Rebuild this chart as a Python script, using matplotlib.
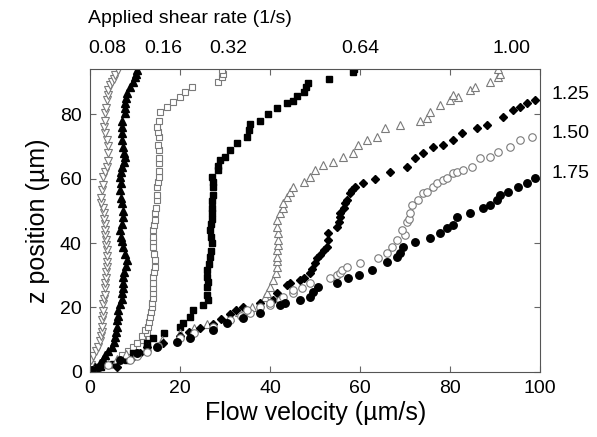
import matplotlib
matplotlib.use("Agg")
import matplotlib.pyplot as plt
from matplotlib.transforms import blended_transform_factory

plt.rcParams['font.family'] = ['Liberation Sans', 'DejaVu Sans']

# velocity (um/s) and z position (um) for each applied shear rate
v_008 = [0.2, 0.1, 0.3, 0.7, 1.3, 1.8, 2.2, 2.5, 2.7, 2.6, 2.7, 2.8, 2.9, 2.9, 3.1, 3.2, 3.3, 3.3, 3.5, 3.6,
         3.8, 3.7, 3.8, 3.8, 3.6, 3.5, 3.4, 3.3, 3.2, 3.0, 3.1, 2.8, 2.5, 2.5, 2.7, 2.8, 2.9, 3.3, 3.8, 3.9,
         4.0, 3.9, 3.8, 3.4, 3.1, 3.2, 3.3, 3.6, 3.8, 4.0, 4.0, 4.4, 4.9, 5.2, 5.6, 6.2]
z_008 = [0.5, 2.0, 3.7, 5.0, 6.5, 7.8, 9.5, 11.0, 12.5, 14.0, 16.0, 17.5, 19.0, 21.0, 22.5, 24.0, 26.0, 27.6, 29.0, 31.0,
         32.6, 34.0, 36.0, 37.8, 39.5, 41.0, 42.5, 44.0, 46.0, 47.5, 49.3, 51.0, 52.4, 54.0, 56.4, 58.0, 60.5, 62.0, 63.6, 65.5,
         67.9, 70.0, 72.0, 74.0, 76.0, 78.0, 80.3, 82.0, 84.3, 86.0, 87.4, 89.0, 90.0, 91.0, 92.0, 93.6]

v_016 = [0.4, 1.0, 2.2, 2.8, 3.3, 4.0, 4.9, 5.2, 5.6, 5.8, 6.0, 6.0, 6.1, 6.2, 6.6, 7.0, 7.1, 7.2, 7.3, 7.3,
         7.6, 8.0, 8.2, 7.8, 7.3, 7.0, 6.8, 6.7, 7.0, 7.3, 7.3, 7.1, 6.9, 6.7, 6.8, 6.7, 6.9, 7.1, 7.5, 7.8,
         7.6, 7.3, 7.0, 7.1, 7.1, 7.1, 7.8, 7.8, 7.8, 8.0, 8.2, 8.9, 9.6, 10.0, 10.2, 10.4]
z_016 = [0.6, 1.5, 2.8, 4.0, 5.3, 6.5, 7.8, 9.3, 10.9, 12.5, 14.0, 16.0, 17.5, 19.2, 21.0, 22.5, 24.5, 26.0, 27.5, 29.5,
         31.0, 33.0, 34.7, 36.5, 38.8, 40.5, 42.0, 44.0, 46.0, 48.0, 50.0, 52.4, 54.0, 56.4, 58.5, 60.5, 62.0, 63.6, 65.0, 66.7,
         68.0, 69.8, 72.0, 74.0, 76.0, 78.0, 80.3, 82.0, 83.4, 85.0, 86.5, 88.4, 90.0, 91.5, 92.5, 93.6]

v_032 = [7.0, 8.5, 9.6, 10.5, 11.8, 11.5, 12.6, 12.2, 12.9, 13.0, 13.3, 13.5, 13.7, 13.8, 14.0, 14.0, 13.9, 14.0, 14.0, 14.2,
         14.4, 14.4, 14.2, 14.0, 14.0, 14.0, 14.0, 14.2, 14.4, 14.4, 14.6, 14.9, 14.9, 14.9, 15.0, 15.2, 15.2, 15.2, 15.3, 15.2,
         15.0, 15.2, 15.0, 14.9, 15.2, 15.6, 17.0, 18.4, 20.0, 21.1, 22.6, 28.4, 29.3, 29.5, 29.3]
z_032 = [5.3, 6.5, 7.8, 9.0, 10.0, 11.0, 12.0, 13.0, 14.0, 15.5, 17.0, 18.5, 20.0, 21.5, 23.0, 24.5, 26.0, 27.5, 29.5, 31.0,
         32.5, 34.7, 36.5, 38.8, 40.5, 42.0, 44.0, 45.5, 47.0, 49.3, 51.0, 53.3, 55.0, 57.4, 59.0, 60.5, 62.5, 64.8, 66.5, 68.8,
         70.5, 72.9, 74.5, 76.0, 78.0, 80.6, 82.2, 83.7, 85.3, 86.8, 88.4, 90.0, 91.5, 92.5, 93.6]

v_064 = [0.5, 2.5, 5.0, 8.1, 9.6, 12.6, 12.6, 14.0, 16.3, 20.0, 20.7, 22.2, 22.9, 25.1, 26.2, 26.0, 26.0, 26.2, 26.0, 26.0,
         26.4, 26.7, 26.9, 27.1, 26.9, 26.7, 26.9, 27.0, 27.1, 27.1, 27.0, 27.2, 27.4, 27.2, 27.0, 28.4, 28.4, 28.9, 30.0, 31.1,
         32.6, 34.8, 35.2, 35.6, 37.8, 39.5, 41.5, 43.7, 45.0, 46.0, 47.4, 48.0, 48.5, 53.0, 58.5, 58.7]
z_064 = [0.5, 1.5, 2.5, 3.8, 5.9, 7.8, 9.0, 10.5, 12.0, 14.0, 15.2, 17.0, 19.2, 20.8, 22.3, 24.0, 26.4, 28.0, 29.5, 31.6,
         33.5, 35.7, 37.5, 40.0, 42.0, 44.0, 46.0, 47.5, 49.3, 51.0, 53.0, 55.0, 57.4, 59.0, 60.5, 62.6, 64.0, 65.7, 66.7, 68.8,
         71.0, 73.0, 75.0, 77.0, 78.0, 80.0, 82.0, 83.4, 84.0, 85.5, 86.8, 88.5, 89.6, 91.0, 93.0, 94.0]

v_100 = [1.0, 4.0, 6.0, 8.0, 12.6, 16.0, 20.0, 23.0, 26.0, 31.0, 33.0, 36.0, 37.8, 38.9, 39.3, 40.0, 40.7, 41.3, 41.5, 41.5,
         41.6, 41.5, 41.7, 41.8, 41.8, 41.6, 41.5, 42.2, 42.9, 42.9, 43.7, 44.4, 45.1, 47.4, 48.9, 50.0, 51.8, 54.0, 56.2, 58.5,
         59.6, 61.5, 63.7, 65.6, 68.9, 73.3, 74.9, 75.6, 77.8, 80.0, 81.8, 80.7, 84.4, 85.6, 88.9, 90.7, 91.0, 90.7]
z_100 = [0.5, 2.5, 4.0, 5.5, 7.8, 10.0, 12.0, 13.5, 15.0, 17.0, 18.5, 20.0, 21.4, 23.3, 24.5, 26.4, 28.5, 30.7, 32.6, 34.5,
         35.7, 37.8, 39.5, 41.0, 43.0, 45.0, 47.1, 49.3, 51.0, 52.4, 54.3, 55.8, 57.4, 58.9, 60.5, 62.6, 64.2, 65.1, 66.7, 67.9,
         70.4, 72.0, 73.0, 75.6, 76.6, 78.0, 78.8, 80.6, 82.8, 84.3, 85.3, 86.0, 87.4, 88.4, 90.0, 91.5, 92.5, 94.0]

v_125 = [1.0, 6.0, 9.0, 11.0, 12.6, 16.2, 20.0, 22.0, 24.4, 27.4, 29.0, 31.0, 32.5, 34.0, 37.8, 40.7, 41.5, 43.7, 44.5, 46.7,
         47.5, 48.9, 49.3, 50.0, 50.5, 51.1, 52.0, 52.6, 52.9, 52.9, 54.9, 55.3, 55.6, 55.6, 56.3, 56.7, 57.1, 57.8, 58.2, 58.9,
         60.7, 63.3, 66.7, 70.4, 72.2, 74.0, 76.2, 78.4, 80.7, 82.7, 86.0, 88.2, 91.8, 94.0, 95.6, 97.0, 98.9]
z_125 = [0.5, 1.6, 4.0, 6.0, 7.8, 9.0, 11.0, 12.5, 13.6, 15.0, 16.5, 18.0, 19.2, 20.0, 21.4, 22.3, 24.5, 27.0, 27.6, 28.5,
         29.1, 30.7, 32.0, 33.8, 35.3, 36.3, 37.8, 38.8, 41.0, 43.0, 45.0, 46.5, 48.0, 49.3, 51.0, 52.4, 53.3, 55.5, 56.4, 57.4,
         58.6, 60.0, 62.0, 63.6, 66.4, 67.9, 69.8, 70.4, 72.0, 74.0, 75.6, 76.6, 79.0, 81.2, 82.2, 83.4, 84.3]

v_150 = [0.5, 4.0, 8.9, 10.5, 12.6, 15.0, 20.0, 23.0, 27.4, 31.0, 33.5, 35.6, 34.8, 37.8, 40.0, 40.0, 42.2, 42.9, 45.1, 45.1,
         47.1, 48.9, 53.3, 54.9, 55.6, 56.0, 57.1, 60.0, 64.0, 66.0, 67.1, 68.2, 70.0, 69.3, 70.4, 70.8, 71.1, 71.6, 72.9, 74.0,
         74.9, 76.2, 77.1, 78.4, 79.3, 80.7, 81.6, 82.9, 84.9, 86.7, 88.9, 90.7, 93.3, 95.6, 98.2]
z_150 = [0.5, 2.0, 3.7, 5.0, 6.2, 8.0, 10.5, 12.0, 14.0, 16.0, 17.5, 18.3, 19.2, 20.0, 20.7, 21.4, 22.3, 23.3, 24.5, 25.4,
         26.0, 27.6, 29.1, 30.1, 30.7, 31.6, 32.6, 33.8, 35.3, 36.9, 38.8, 41.0, 42.5, 44.0, 46.5, 47.5, 49.2, 51.8, 53.3, 55.5,
         55.8, 57.4, 58.6, 59.5, 60.2, 61.7, 62.0, 62.6, 63.6, 66.4, 66.7, 68.2, 69.8, 72.0, 73.0]

v_175 = [0.4, 2.0, 6.7, 10.4, 14.9, 19.3, 22.2, 27.4, 30.4, 34.0, 37.8, 42.2, 43.3, 46.7, 48.9, 49.6, 50.7, 54.9, 57.3, 59.7,
         62.7, 66.0, 68.2, 68.9, 69.6, 72.2, 75.6, 77.8, 79.3, 80.7, 81.6, 84.4, 87.3, 88.9, 90.4, 91.1, 92.9, 95.1, 97.0, 98.9]
z_175 = [0.5, 1.5, 3.7, 5.9, 7.8, 9.3, 10.5, 13.0, 15.2, 16.7, 18.3, 20.8, 21.4, 22.3, 23.3, 24.8, 26.4, 27.6, 29.0, 30.1,
         31.6, 34.1, 35.7, 36.9, 38.8, 40.3, 41.5, 43.1, 44.6, 45.6, 48.0, 49.3, 50.9, 51.8, 53.3, 54.9, 55.8, 57.4, 58.6, 60.2]

top_labels = ["0.08", "0.16", "0.32", "0.64", "1.00"]
top_label_x = [3.8, 16.2, 30.7, 60.0, 93.5]
right_labels = ["1.25", "1.50", "1.75"]
right_label_z = [86.0, 74.0, 61.7]

fig = plt.figure(figsize=(5.97, 4.37), dpi=100)
ax = fig.add_axes([0.151, 0.149, 0.754, 0.693])

grey = "#7a7a7a"
ms = 5.4
ax.plot(v_008, z_008, "v", ms=ms, mfc="white", mec=grey, mew=0.8, ls="none")
ax.plot(v_016, z_016, "^", ms=ms, color="black", ls="none")
ax.plot(v_032, z_032, "s", ms=ms - 0.5, mfc="white", mec=grey, mew=0.8, ls="none")
ax.plot(v_064, z_064, "s", ms=ms - 0.5, color="black", ls="none")
ax.plot(v_100, z_100, "^", ms=ms, mfc="white", mec=grey, mew=0.8, ls="none")
ax.plot(v_125, z_125, "D", ms=ms - 1.0, color="black", ls="none")
ax.plot(v_150, z_150, "o", ms=ms, mfc="white", mec=grey, mew=0.8, ls="none")
ax.plot(v_175, z_175, "o", ms=ms, color="black", ls="none")

ax.set_xlim(0, 100)
ax.set_ylim(0, 94)
ax.set_xticks([0, 20, 40, 60, 80, 100])
ax.set_yticks([0, 20, 40, 60, 80])
ax.tick_params(direction="in", top=True, right=True, labelsize=14, length=4, color="#666666", pad=6)
for s in ax.spines.values():
    s.set_color("#555555")

ax.set_xlabel("Flow velocity (µm/s)", fontsize=18, labelpad=3)
ax.set_ylabel("z position (µm)", fontsize=18, labelpad=7)

tr_top = blended_transform_factory(ax.transData, ax.transAxes)
for lab, x in zip(top_labels, top_label_x):
    ax.text(x, 1.04, lab, transform=tr_top, ha="center", va="bottom", fontsize=14)
tr_right = blended_transform_factory(ax.transAxes, ax.transData)
for lab, z in zip(right_labels, right_label_z):
    ax.text(1.025, z, lab, transform=tr_right, ha="left", va="center", fontsize=14)

fig.text(0.147, 0.958, "Applied shear rate (1/s)", ha="left", va="center", fontsize=14)

fig.savefig("out.png", dpi=100)
